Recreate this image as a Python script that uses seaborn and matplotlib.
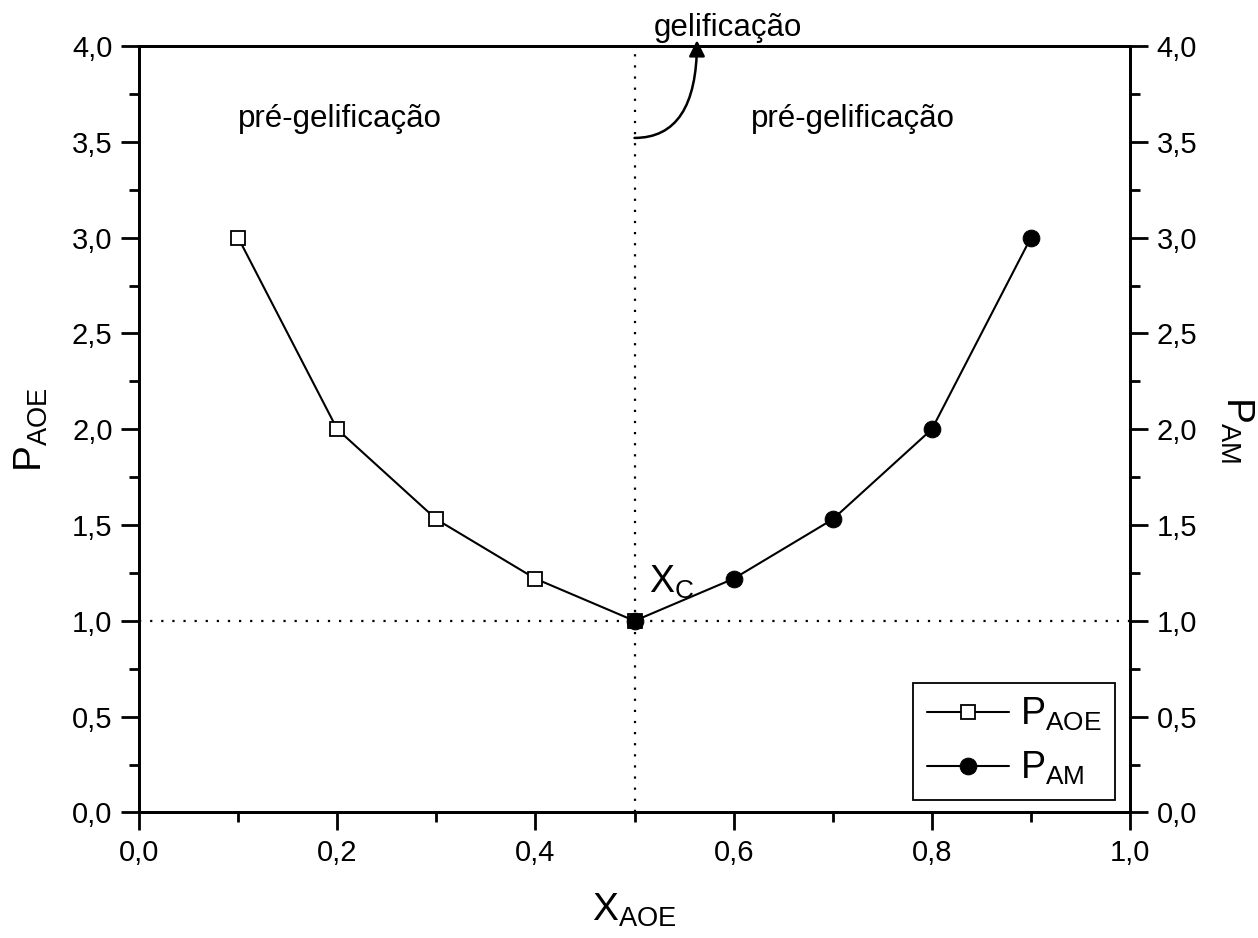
import numpy as np
import pandas as pd
import matplotlib
matplotlib.use("Agg")
import matplotlib.pyplot as plt
from matplotlib.ticker import MultipleLocator, FuncFormatter
import seaborn as sns

# dados
x_aoe = [0.1, 0.2, 0.3, 0.4, 0.5]
p_aoe = [3.0, 2.0, 1.53, 1.22, 1.0]
x_am = [0.5, 0.6, 0.7, 0.8, 0.9]
p_am = [1.0, 1.22, 1.53, 2.0, 3.0]
x_c = 0.5
p_c = 1.0

sns.set_style("ticks")
plt.rcParams["font.family"] = ["Liberation Sans", "DejaVu Sans"]
plt.rcParams["mathtext.fontset"] = "custom"
plt.rcParams["mathtext.rm"] = "Liberation Sans"
plt.rcParams["mathtext.it"] = "Liberation Sans"
plt.rcParams["axes.linewidth"] = 2.0
for k in ["text.color", "axes.labelcolor", "axes.edgecolor",
          "xtick.color", "ytick.color"]:
    plt.rcParams[k] = "black"

df_aoe = pd.DataFrame({"x": x_aoe, "p": p_aoe})
df_am = pd.DataFrame({"x": x_am, "p": p_am})

fig, ax = plt.subplots(figsize=(12.58, 9.38), dpi=100)
fig.subplots_adjust(left=0.1105, right=0.8983, bottom=0.1338, top=0.951)

# linhas pontilhadas do ponto crítico
ax.axvline(x_c, color="black", lw=1.6, ls=(0, (1, 4)), zorder=1)
ax.axhline(p_c, color="black", lw=1.6, ls=(0, (1, 4)), zorder=1)

sns.lineplot(data=df_aoe, x="x", y="p", ax=ax, color="black", lw=1.5,
             marker="s", markersize=9.5, markerfacecolor="white",
             markeredgecolor="black", markeredgewidth=1.3,
             label=r"$\mathregular{P_{AOE}}$", zorder=3)
sns.lineplot(data=df_am, x="x", y="p", ax=ax, color="black", lw=1.5,
             marker="o", markersize=12, markerfacecolor="black",
             markeredgecolor="black", label=r"$\mathregular{P_{AM}}$", zorder=4)

ax.set_xlim(0, 1.0)
ax.set_ylim(0, 4.0)

fmt = FuncFormatter(lambda v, pos: f"{v:.1f}".replace(".", ","))
ax.xaxis.set_major_locator(MultipleLocator(0.2))
ax.xaxis.set_minor_locator(MultipleLocator(0.1))
ax.yaxis.set_major_locator(MultipleLocator(0.5))
ax.yaxis.set_minor_locator(MultipleLocator(0.25))
ax.xaxis.set_major_formatter(fmt)
ax.yaxis.set_major_formatter(fmt)
ax.tick_params(which="major", direction="out", length=13, width=2,
               labelsize=21, pad=6)
ax.tick_params(which="minor", direction="out", length=7, width=2)
ax.tick_params(axis="x", top=False, which="both")

ax2 = ax.twinx()
ax2.set_ylim(0, 4.0)
ax2.yaxis.set_major_locator(MultipleLocator(0.5))
ax2.yaxis.set_minor_locator(MultipleLocator(0.25))
ax2.yaxis.set_major_formatter(fmt)
ax2.tick_params(which="major", direction="out", length=13, width=2,
                labelsize=21, pad=6)
ax2.tick_params(which="minor", direction="out", length=7, width=2)
for s in ax2.spines.values():
    s.set_linewidth(2.0)

ax.set_xlabel(r"$\mathregular{X_{AOE}}$", fontsize=28, labelpad=18)
ax.set_ylabel(r"$\mathregular{P_{AOE}}$", fontsize=28, labelpad=16)
ax2.set_ylabel(r"$\mathregular{P_{AM}}$", fontsize=28, rotation=-90,
               labelpad=42)

ax.text(0.203, 3.62, "pré-gelificação", fontsize=22.5, ha="center", va="center")
ax.text(0.72, 3.62, "pré-gelificação", fontsize=22.5, ha="center", va="center")
ax.text(0.537, 1.2, r"$\mathregular{X_{C}}$", fontsize=27, ha="center",
        va="center")

ax.annotate("", xy=(0.563, 4.03), xytext=(0.5, 3.52),
            arrowprops=dict(arrowstyle="-|>", color="black", lw=1.8,
                            mutation_scale=24,
                            connectionstyle="angle3,angleA=0,angleB=90",
                            shrinkA=0, shrinkB=0),
            annotation_clip=False)
ax.text(0.594, 4.095, "gelificação", fontsize=22.5, ha="center", va="center",
        clip_on=False)

leg = ax.legend(loc="lower right", bbox_to_anchor=(1 - 15 / 991, 12 / 766),
                borderaxespad=0, fontsize=27, handlelength=2.2,
                fancybox=False, edgecolor="black", framealpha=1,
                labelspacing=0.45, borderpad=0.35, handletextpad=0.3)
leg.get_frame().set_linewidth(1.3)

fig.savefig("out.png", dpi=100)
